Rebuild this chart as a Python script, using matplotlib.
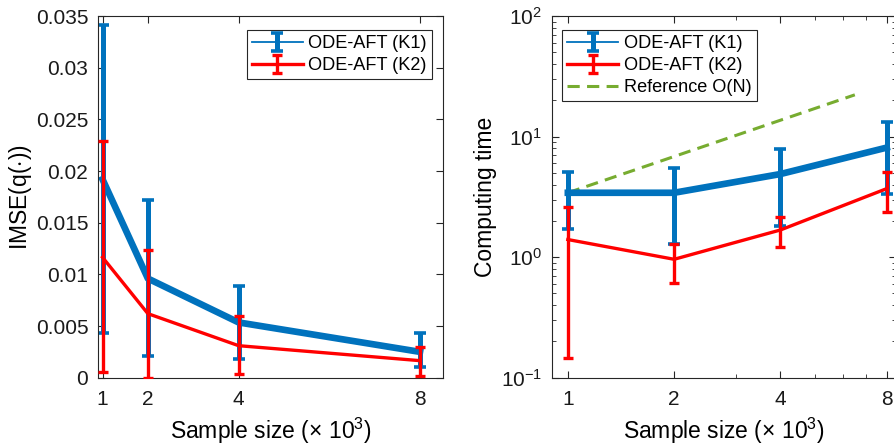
import numpy as np
from matplotlib import pyplot as plt, ticker as mticker

plt.rcParams['font.family'] = ['Liberation Sans', 'DejaVu Sans']
plt.rcParams['mathtext.fontset'] = 'custom'
plt.rcParams['mathtext.rm'] = 'Liberation Sans'
plt.rcParams['mathtext.it'] = 'Liberation Sans:italic'

# sample size (x 10^3)
n = [1, 2, 4, 8]

# IMSE, mean and error bar ends
imse_k1 = [0.0192, 0.0096, 0.00535, 0.0025]
imse_k1_hi = [0.0341, 0.0172, 0.0089, 0.0043]
imse_k1_lo = [0.0043, 0.0021, 0.0018, 0.0010]
imse_k2 = [0.01165, 0.0062, 0.0031, 0.00165]
imse_k2_hi = [0.0229, 0.0124, 0.0060, 0.0030]
imse_k2_lo = [0.0006, 0.0, 0.00035, 0.00015]

# computing time
time_k1 = [3.42, 3.42, 4.89, 8.1]
time_k1_hi = [5.05, 5.5, 7.9, 13.1]
time_k1_lo = [1.72, 1.29, 1.83, 3.32]
time_k2 = [1.40, 0.96, 1.68, 3.70]
time_k2_hi = [2.62, 1.28, 2.14, 5.05]
time_k2_lo = [0.147, 0.614, 1.21, 2.35]

# reference O(N) line
ref_n = [1, 6.5]
ref_t = [3.42, 22.2]

blue = '#0072BD'
red = '#FF0000'
green = '#77AC30'
axcol = '#262626'


def err(mid, lo, hi):
    mid = np.array(mid)
    return [mid - np.array(lo), np.array(hi) - mid]


def style_axes(ax):
    for s in ax.spines.values():
        s.set_color(axcol)
        s.set_linewidth(0.8)
    ax.tick_params(which='both', direction='in', top=True, right=True,
                   colors=axcol, labelcolor='#1a1a1a', labelsize=15)
    ax.tick_params(which='major', length=5, pad=9)
    ax.tick_params(which='minor', length=3)
    ax.tick_params(axis='y', which='major', pad=7)


def draw(ax, yk1, k1lo, k1hi, yk2, k2lo, k2hi):
    ax.errorbar(n, yk1, yerr=err(yk1, k1lo, k1hi), color=blue, lw=4.8,
                elinewidth=3.6, capsize=4.2, capthick=2.6, zorder=2)
    ax.errorbar(n, yk2, yerr=err(yk2, k2lo, k2hi), color=red, lw=2.4,
                elinewidth=2.4, capsize=3.7, capthick=2.4, zorder=3)
    # legend proxies (thin line for K1 as in the original)
    h1 = ax.errorbar([np.nan], [np.nan], yerr=[[np.nan], [np.nan]], color=blue,
                     lw=1.3, elinewidth=3.6, capsize=4.2, capthick=2.6,
                     label='ODE-AFT (K1)')
    h2 = ax.errorbar([np.nan], [np.nan], yerr=[[np.nan], [np.nan]], color=red,
                     lw=2.4, elinewidth=2.4, capsize=3.7, capthick=2.4,
                     label='ODE-AFT (K2)')
    return h1, h2


def make_legend(ax, handles, loc, anchor):
    leg = ax.legend(handles=handles, loc=loc, bbox_to_anchor=anchor,
                    bbox_transform=fig.transFigure, fontsize=13.1, handlelength=2.8,
                    handletextpad=0.3, labelspacing=0.28, borderpad=0.28,
                    borderaxespad=0, fancybox=False, framealpha=1, edgecolor=axcol)
    leg.get_frame().set_linewidth(0.8)
    return leg


fig = plt.figure(figsize=(8.94, 4.45), dpi=100)
ax1 = fig.add_axes([0.1096, 0.1512, 0.3856, 0.8128])
ax2 = fig.add_axes([0.6171, 0.1512, 0.3851, 0.8128])

# left: IMSE
h1, h2 = draw(ax1, imse_k1, imse_k1_lo, imse_k1_hi, imse_k2, imse_k2_lo, imse_k2_hi)
ax1.set_xlim(0.9, 8.5)
ax1.set_ylim(0, 0.035)
ax1.set_xticks(n)
ax1.set_xticklabels([str(v) for v in n])
ax1.set_yticks(np.arange(0, 0.0351, 0.005))
ax1.yaxis.set_major_formatter(mticker.FuncFormatter(lambda v, p: '%g' % round(v, 4)))
style_axes(ax1)
ax1.set_xlabel(r'Sample size ($\times$ 10$^3$)', fontsize=16.5)
ax1.set_ylabel(r'IMSE(q($\cdot$))', fontsize=16.5)
ax1.xaxis.set_label_coords(0.5, -0.104)
ax1.yaxis.set_label_coords(-0.186, 0.5)
make_legend(ax1, [h1, h2], 'upper right', (431.7 / 894, 1 - 30 / 445))

# right: computing time
h1, h2 = draw(ax2, time_k1, time_k1_lo, time_k1_hi, time_k2, time_k2_lo, time_k2_hi)
h3, = ax2.plot(ref_n, ref_t, '--', color=green, lw=2.2, dashes=(4, 2.4),
               label='Reference O(N)', zorder=1)
ax2.set_xscale('log')
ax2.set_yscale('log')
ax2.set_xlim(0.9, 8.5)
ax2.set_ylim(0.1, 100)
ax2.xaxis.set_major_locator(mticker.FixedLocator(n))
ax2.xaxis.set_major_formatter(mticker.FixedFormatter([str(v) for v in n]))
ax2.xaxis.set_minor_locator(mticker.FixedLocator([3, 5, 6, 7]))
ax2.xaxis.set_minor_formatter(mticker.NullFormatter())
ax2.yaxis.set_major_locator(mticker.LogLocator(base=10, numticks=10))
ax2.yaxis.set_minor_locator(mticker.LogLocator(base=10, subs=np.arange(2, 10), numticks=10))
ax2.yaxis.set_minor_formatter(mticker.NullFormatter())
style_axes(ax2)
ax2.set_xlabel(r'Sample size ($\times$ 10$^3$)', fontsize=16.5)
ax2.set_ylabel('Computing time', fontsize=16.5)
ax2.xaxis.set_label_coords(0.5, -0.104)
ax2.yaxis.set_label_coords(-0.158, 0.5)
make_legend(ax2, [h1, h2, h3], 'upper left', (562.3 / 894, 1 - 30 / 445))

fig.savefig('out.png', dpi=100)
